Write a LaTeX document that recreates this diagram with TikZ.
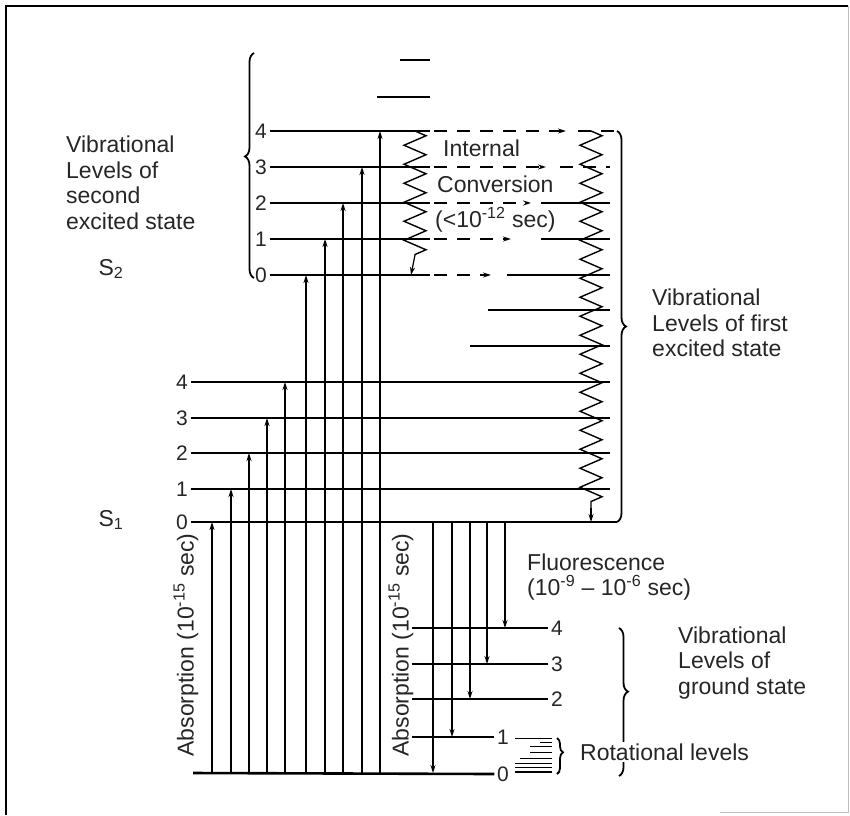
\documentclass[tikz,border=0pt]{standalone}
\usepackage{fontspec}
\setmainfont{Liberation Sans}
\usetikzlibrary{arrows.meta,decorations.pathmorphing,decorations.pathreplacing}

\tikzset{
  lvl/.style={line width=1.3pt},
  lvlzero/.style={line width=2.6pt},
  tip/.style={-{Stealth[length=8pt,width=5pt]}, line width=1.2pt},
  icdash/.style={dash pattern=on 13pt off 10pt, line width=1.3pt},
  zig/.style={decorate, decoration={zigzag, segment length=19pt, amplitude=11pt}, line width=1.4pt},
  curly/.style={decorate, decoration={brace, amplitude=9pt}, line width=1.8pt},
  num/.style={font=\fontsize{21}{24}\selectfont, inner sep=2.5pt, text=black!85},
  txt/.style={font=\fontsize{23}{25.5}\selectfont, align=left, inner sep=0pt, text=black!85}
}

\begin{document}
\begin{tikzpicture}[x=1pt,y=-1pt]
\useasboundingbox (0,0) rectangle (850,815);

% Frame
\draw[gray!50, line width=1pt] (848,6) -- (848,812) -- (720,812);
\draw[line width=2.2pt] (5,6) -- (848,6);
\draw[line width=1.6pt] (6,6) -- (6,815);

% S2 levels
\foreach \v/\y in {0/275,1/239,2/203,3/167,4/131}
  \node[num] (stwo\v) at (261,\y) {\v};
\foreach \v/\y in {1/239,2/203,3/167,4/131}
  \draw[lvl] (stwo\v.east) -- (430,\y);
\draw[lvlzero] (stwo0.east) -- (430,275);
\draw[lvl] (400,60) -- (430,60);
\draw[lvl] (377,97) -- (430,97);

% Internal conversion arrows
\foreach \y/\xe in {131/566,167/546,203/531,239/511,275/491}
  \draw[icdash, tip] (434,\y) -- (\xe,\y);

% S1 levels
\foreach \v/\y in {0/522,1/489,2/453,3/418,4/382}
  \node[num] (sone\v) at (182,\y) {\v};
\foreach \v/\y in {1/489,2/453,3/418,4/382}
  \draw[lvl] (sone\v.east) -- (610,\y);
\draw[lvlzero] (sone0.east) -- (617,522);
\foreach \x/\y in {470/346,488/310,507/275,541/239,541/203}
  \draw[lvl] (\x,\y) -- (610,\y);
\draw[icdash] (560,167) -- (610,167);
\draw[icdash] (578,131) -- (616,131);

% Zigzags
\draw[zig] (415,131) -- (415,255);
\draw[tip] (415,255) -- (411,275);
\draw[zig] (591,131) -- (591,508);
\draw[tip] (591,508) -- (591,522);

% Ground state levels
\foreach \v/\y in {0/774,1/737}
  \node[num] (gnd\v) at (503,\y) {\v};
\foreach \v/\y in {2/699,3/664,4/628}
  \node[num] (gnd\v) at (557,\y) {\v};
\draw[lvlzero] (193,773) -- (gnd0.west);
\draw[lvl] (412,737) -- (gnd1.west);
\foreach \v/\y in {2/699,3/664,4/628}
  \draw[lvl] (412,\y) -- (gnd\v.west);

% Rotational levels
\foreach \xa/\y in {515/738,540/742,530/746,530/752,520/758,515/763,515/767}
  \draw[line width=0.9pt] (\xa,\y) -- (552,\y);
\draw[line width=2.2pt] (515,772) -- (552,772);

% Absorption
\foreach \x/\y in {212/522,231/489,249/453,267/418,285/382,306/275,325/239,343/203,362/167,380/131}
  \draw[tip] (\x,773) -- (\x,\y);

% Fluorescence
\foreach \x/\y in {433/773,452/737,470/699,487/664,505/628}
  \draw[tip] (\x,522) -- (\x,\y);

% Braces
\draw[curly, decoration={aspect=0.54}] (254,278) -- (254,53);
\draw[curly] (617,131) -- (617,522);
\draw[curly, decoration={aspect=0.43}] (619,628) -- (619,776);
\draw[curly, decoration={amplitude=6pt, aspect=0.4}] (557,738) -- (557,774);

% Labels
\node[txt, anchor=west] (secondlbl) at (66,183) {Vibrational\\Levels of\\second\\excited state};
\node[txt] (stwolbl) at (111,269) {S\textsubscript{2}};
\node[txt] (sonelbl) at (111,520) {S\textsubscript{1}};
\node[txt, anchor=west] (iclbl) at (443,148) {Internal};
\node[txt, anchor=west] (convlbl) at (437,184) {Conversion};
\node[txt, anchor=west] (timelbl) at (435,220) {(<10\textsuperscript{-12} sec)};
\node[txt, anchor=west] (firstlbl) at (652,323) {Vibrational\\Levels of first\\excited state};
\node[txt, anchor=west] (fluorlbl) at (527,577) {Fluorescence\\(10\textsuperscript{-9} -- 10\textsuperscript{-6} sec)};
\node[txt, anchor=west] (groundlbl) at (678,663) {Vibrational\\Levels of\\ground state};
\node[txt, anchor=west, fill=white, inner sep=2pt] (rotlbl) at (578,752) {Rotational levels};
\node[txt, rotate=90] (absa) at (186,645) {Absorption (10\textsuperscript{-15} sec)};
\node[txt, rotate=90] (absb) at (401,645) {Absorption (10\textsuperscript{-15} sec)};

\end{tikzpicture}
\end{document}
